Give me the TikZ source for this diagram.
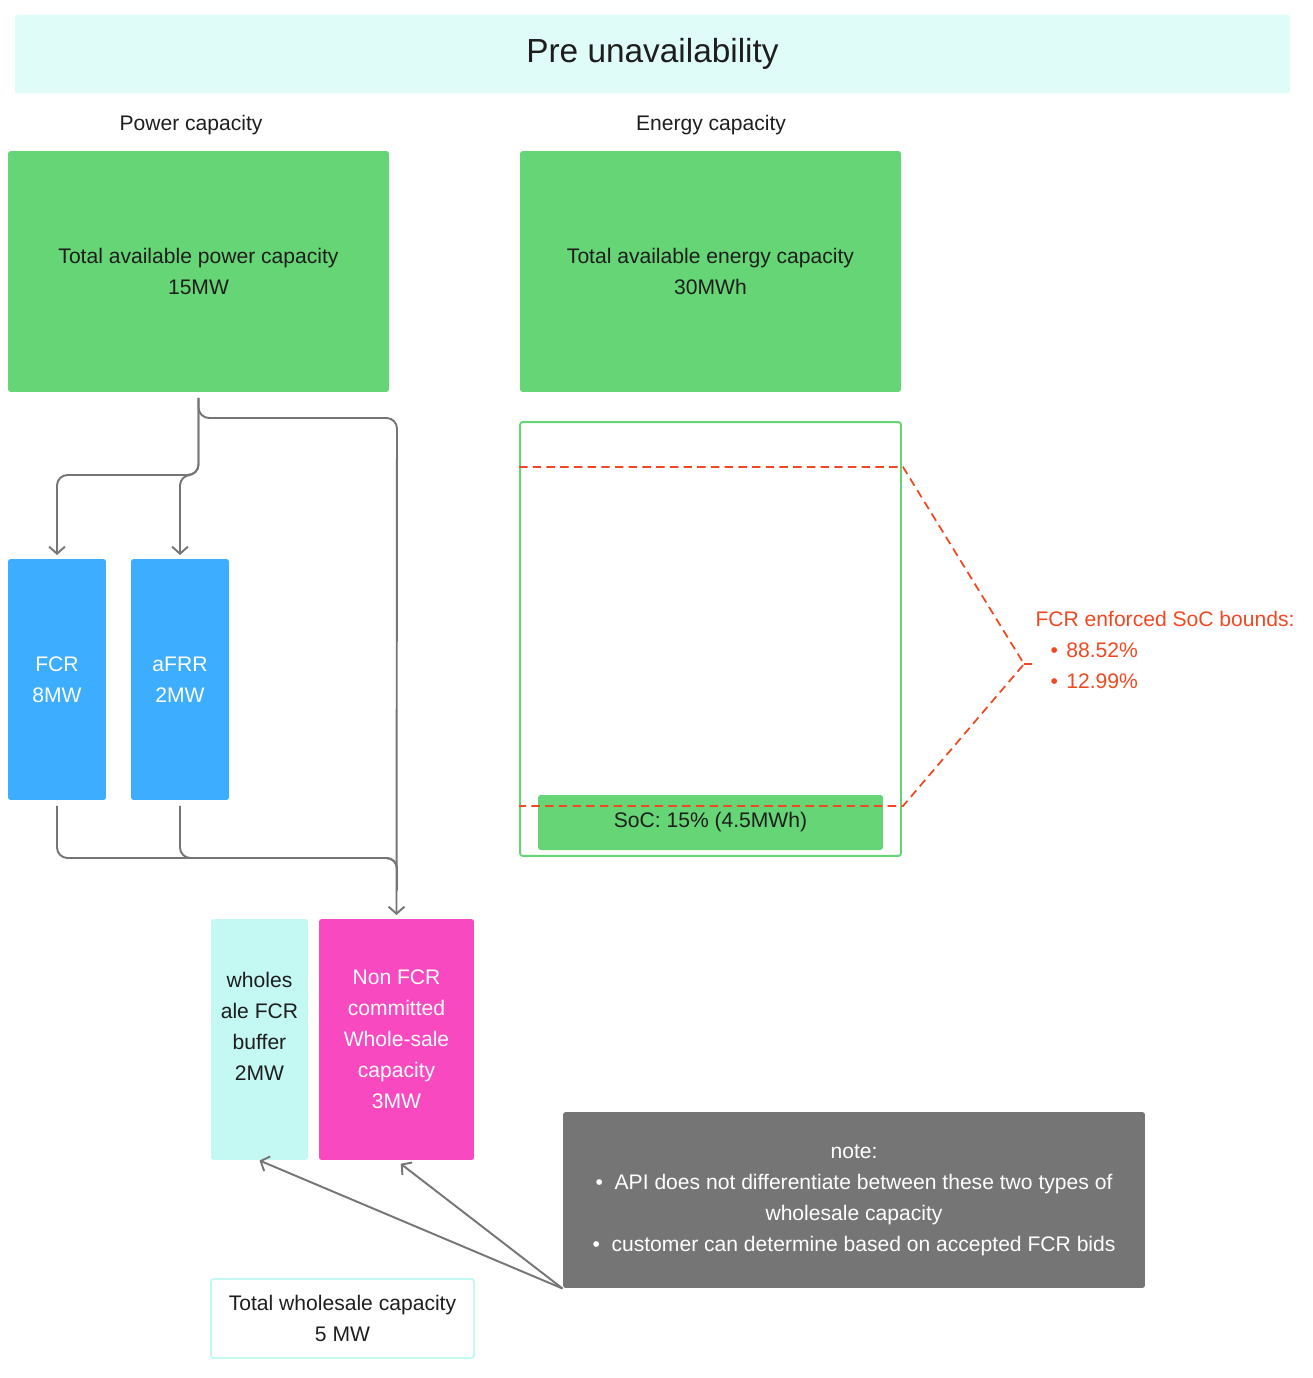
\documentclass[tikz,border=0pt]{standalone}
\usepackage{fontspec}
\setmainfont{Liberation Sans}
\usepackage{tikz}
\usetikzlibrary{arrows.meta}

\definecolor{cBanner}{HTML}{E0FCF9}
\definecolor{cGreen}{HTML}{66D575}
\definecolor{cBlue}{HTML}{3DADFF}
\definecolor{cCyan}{HTML}{C4F8F3}
\definecolor{cPink}{HTML}{F849C1}
\definecolor{cGrey}{HTML}{757575}
\definecolor{cRed}{HTML}{F24822}
\definecolor{cInk}{HTML}{1E1E1E}

\begin{document}
\begin{tikzpicture}[x=0.02cm,y=-0.02cm,>={Straight Barb[length=4pt,width=9pt]},semithick]
\tikzstyle{box}=[rectangle,rounded corners=1.5pt,inner sep=0pt,align=center,text=cInk,font=\fontsize{12}{17.6}\selectfont]
\tikzstyle{tall}=[box,minimum height=4.82cm]
\tikzstyle{wire}=[draw=cGrey,line width=1.1pt,rounded corners=6pt]
\tikzstyle{bound}=[draw=cRed,line width=1pt,dash pattern=on 4.8pt off 3pt]
\useasboundingbox (0,0) rectangle (1312,1378);

% header
\node[box,fill=cBanner,minimum width=25.5cm,minimum height=1.58cm,font=\fontsize{19}{22}\selectfont] (T) at (652.5,54) {Pre unavailability};
\node[box] (PC) at (191,125.5) {Power capacity};
\node[box] (EC) at (711,125.5) {Energy capacity};

% power side
\node[box,fill=cGreen,minimum width=7.62cm,minimum height=4.82cm] (P) at (198.5,271.5) {Total available power capacity\\15MW};
\node[tall,fill=cBlue,text=white,minimum width=1.96cm] (F) at (57,679.5) {FCR\\8MW};
\node[tall,fill=cBlue,text=white,minimum width=1.96cm] (A) at (180,679.5) {aFRR\\2MW};
\node[tall,fill=cCyan,minimum width=1.94cm] (B) at (259.5,1039.5) {};
\node[box] (BL) at (259.5,1026) {wholes\\ale FCR\\buffer\\2MW};
\node[tall,fill=cPink,text=white,minimum width=3.1cm] (N) at (396.5,1039.5) {Non FCR\\committed\\Whole-sale\\capacity\\3MW};
\node[box,draw=cCyan,line width=1.1pt,minimum width=5.26cm,minimum height=1.58cm] (W) at (342.5,1318.5) {Total wholesale capacity\\5 MW};
\node[box,fill=cGrey,text=white,minimum width=11.64cm,minimum height=3.52cm] (NT) at (854,1200) {note:\\• \ API does not differentiate between these two types of\\wholesale capacity\\• \ customer can determine based on accepted FCR bids};

% energy side
\node[box,fill=cGreen,minimum width=7.62cm,minimum height=4.82cm] (E) at (710.5,271.5) {Total available energy capacity\\30MWh};
\node[box,draw=cGreen,line width=1.1pt,minimum width=7.62cm,minimum height=8.68cm] (E2) at (710.5,639) {};
\node[box,fill=cGreen,minimum width=6.9cm,minimum height=1.1cm] (S) at (710.5,822.5) {SoC: 15\% (4.5MWh)};
\node[box,anchor=west,align=left,text=cRed] (BT) at (1035,650) {FCR enforced SoC bounds:\\\hspace*{0.3cm}•\hspace{0.17cm}88.52\%\\\hspace*{0.3cm}•\hspace{0.17cm}12.99\%};

\coordinate (S1) at (198,475);
\coordinate (S2) at (397,418);
\coordinate (S3) at (397,858);
\coordinate (S4) at (397,890);
\coordinate (H) at (903,467);
\coordinate (L) at (903,806);
\coordinate (K) at (1024,664);
\coordinate (K2) at (1033,664);

\draw[wire,->,shorten <=3pt,shorten >=2pt] (P.south) -- (P.south |- S1) -| (F.north);
\draw[wire,->,shorten <=3pt,shorten >=2pt] (P.south) -- (P.south |- S1) -| (A.north);
\draw[wire,->,shorten <=3pt,shorten >=2pt] (P.south) |- (S2) -- (N.north);
\draw[wire,shorten <=3pt] (F.south) |- (S3) -- (S4);
\draw[wire,shorten <=3pt] (A.south) |- (S3) -- (S4);
\draw[wire,->] (NT.south west) -- (B.south);
\draw[wire,->,shorten >=3pt] (NT.south west) -- (N.south);

\draw[bound] (E2.west |- H) -- (H) -- (K) -- (L) -- (E2.west |- L);
\draw[bound] (K) -- (K2);
\end{tikzpicture}
\end{document}
